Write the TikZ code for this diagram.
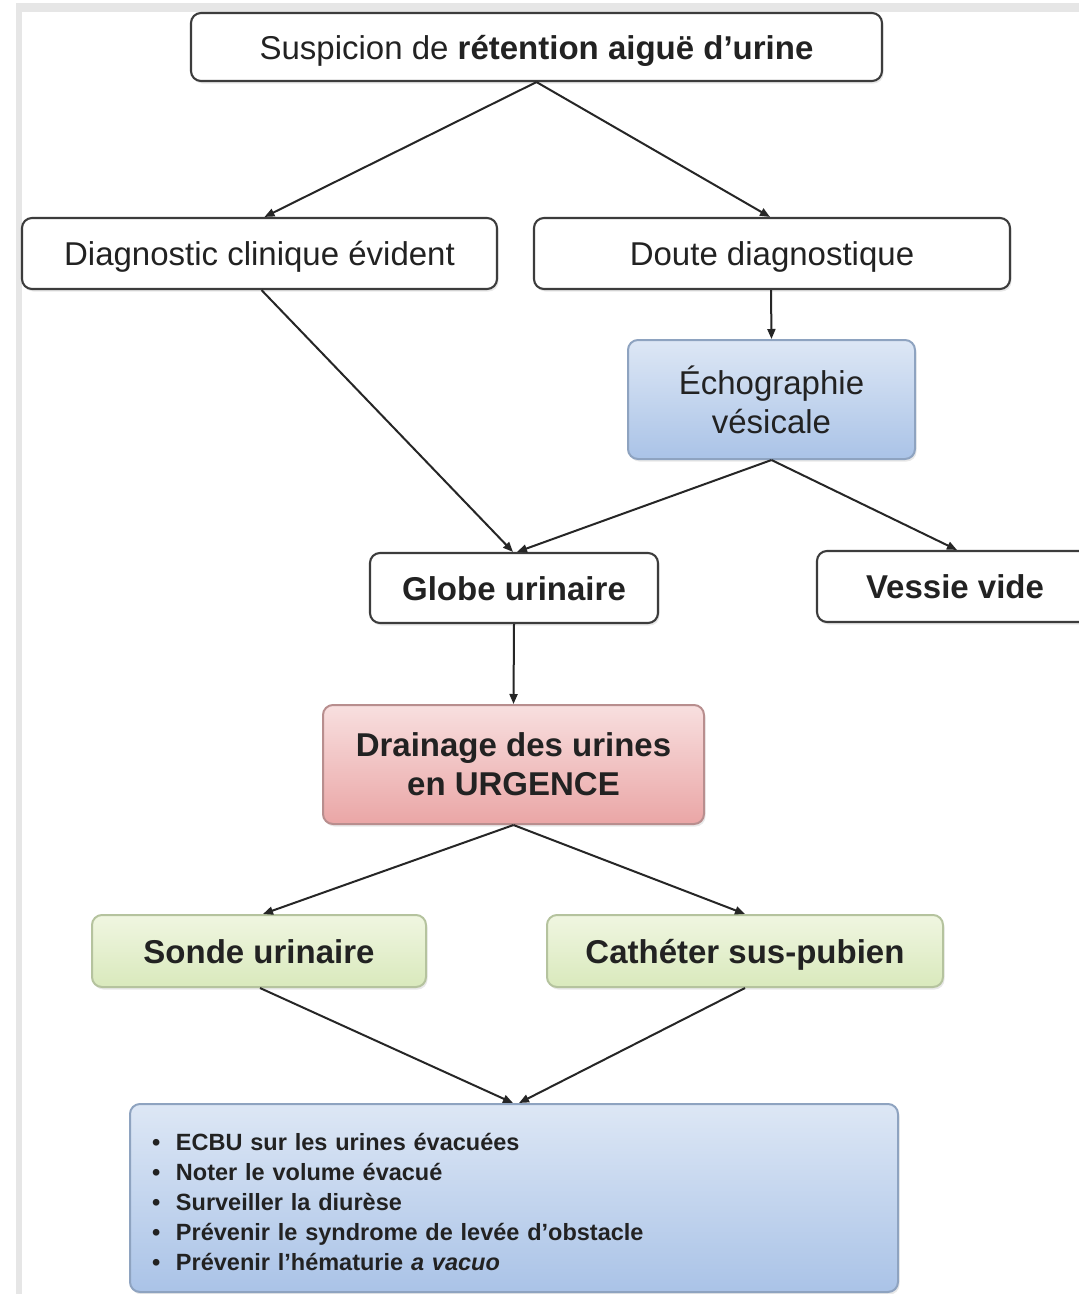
\documentclass[tikz,border=0pt]{standalone}
\usepackage{fontspec}
\setmainfont{Liberation Sans}
\usetikzlibrary{arrows.meta,shadows}
\definecolor{frame}{HTML}{E6E6E6}
\definecolor{txt}{HTML}{222222}
\definecolor{bord}{HTML}{3C3C3C}
\definecolor{bluetop}{HTML}{DDE7F5}
\definecolor{bluebot}{HTML}{AAC3E7}
\definecolor{blueb}{HTML}{8EA3C0}
\definecolor{pinktop}{HTML}{F8DFDF}
\definecolor{pinkbot}{HTML}{EAA6A6}
\definecolor{pinkb}{HTML}{B88E8E}
\definecolor{greentop}{HTML}{F0F6E1}
\definecolor{greenbot}{HTML}{D9E9BC}
\definecolor{greenb}{HTML}{B5C39E}
\definecolor{arr}{HTML}{262626}
\tikzset{
  basebox/.style={rounded corners=10pt, inner sep=0pt, align=center, text=txt,
    font=\fontsize{33}{39}\selectfont,
    drop shadow={opacity=0.18, shadow xshift=1.5pt, shadow yshift=-2.5pt}},
  oneline/.style={text height=24pt, text depth=0pt},
  plainbox/.style={basebox, draw=bord, line width=2.1pt, fill=white},
  bluebox/.style={basebox, draw=blueb, line width=2pt, top color=bluetop, bottom color=bluebot},
  pinkbox/.style={basebox, draw=pinkb, line width=2pt, top color=pinktop, bottom color=pinkbot},
  greenbox/.style={basebox, draw=greenb, line width=2pt, top color=greentop, bottom color=greenbot},
  conn/.style={draw=arr, line width=2pt, -{Triangle[length=10pt,width=8pt]}},
}
\begin{document}
\begin{tikzpicture}[x=1pt,y=-1pt]
\useasboundingbox (0,0) rectangle (1079,1294);
\fill[white] (0,0) rectangle (1079,1294);
\fill[frame] (16,3) rectangle (1079,12);
\fill[frame] (16,3) rectangle (22,1294);

\node[plainbox, oneline, minimum width=691pt, minimum height=68pt] (top) at (536.5,47)
  {Suspicion de \textbf{rétention aiguë d’urine}};
\node[plainbox, oneline, minimum width=475pt, minimum height=71pt] (diag) at (259.5,253.5)
  {Diagnostic clinique évident};
\node[plainbox, oneline, minimum width=476pt, minimum height=71pt] (doute) at (772,253.5)
  {Doute diagnostique};
\node[bluebox, minimum width=287pt, minimum height=119pt] (echo) at (771.5,399.5)
  {Échographie\\vésicale};
\node[plainbox, oneline, minimum width=288pt, minimum height=70pt, font=\fontsize{33}{39}\selectfont\bfseries] (globe) at (514,588)
  {Globe urinaire};
\node[plainbox, oneline, minimum width=276pt, minimum height=71pt, font=\fontsize{33}{39}\selectfont\bfseries] (vessie) at (955,586.5)
  {Vessie vide};
\node[pinkbox, minimum width=381pt, minimum height=119pt, font=\fontsize{33}{39}\selectfont\bfseries] (drain) at (513.5,764.5)
  {Drainage des urines\\en URGENCE};
\node[greenbox, oneline, minimum width=334pt, minimum height=72pt, font=\fontsize{33}{39}\selectfont\bfseries] (sonde) at (259,951)
  {Sonde urinaire};
\node[greenbox, oneline, minimum width=396pt, minimum height=72pt, font=\fontsize{33}{39}\selectfont\bfseries] (cath) at (745,951)
  {Cathéter sus-pubien};
\node[bluebox, minimum width=768pt, minimum height=188pt, text width=724pt, inner xsep=22pt, align=left,
  font=\fontsize{23.5}{30}\selectfont\bfseries] (bot) at (514,1198)
  {\rule{0pt}{25pt}\makebox[24pt][l]{•}ECBU sur les urines évacuées\\
   \makebox[24pt][l]{•}Noter le volume évacué\\
   \makebox[24pt][l]{•}Surveiller la diurèse\\
   \makebox[24pt][l]{•}Prévenir le syndrome de levée d’obstacle\\
   \makebox[24pt][l]{•}Prévenir l’hématurie \textit{a vacuo}};

\draw[conn] (top.south) -- ([xshift=5pt]diag.north);
\draw[conn] (top.south) -- ([xshift=-2pt]doute.north);
\draw[conn] ([xshift=2pt]diag.south) -- ([xshift=-1pt]globe.north);
\draw[conn] ([xshift=-1pt]doute.south) -- (echo.north);
\draw[conn] (echo.south) -- ([xshift=3pt]globe.north);
\draw[conn] (echo.south) -- ([xshift=2pt]vessie.north);
\draw[conn] (globe.south) -- (drain.north);
\draw[conn] (drain.south) -- ([xshift=4pt]sonde.north);
\draw[conn] (drain.south) -- (cath.north);
\draw[conn] ([xshift=1pt]sonde.south) -- ([xshift=-1pt]bot.north);
\draw[conn] (cath.south) -- ([xshift=5pt]bot.north);
\end{tikzpicture}
\end{document}
